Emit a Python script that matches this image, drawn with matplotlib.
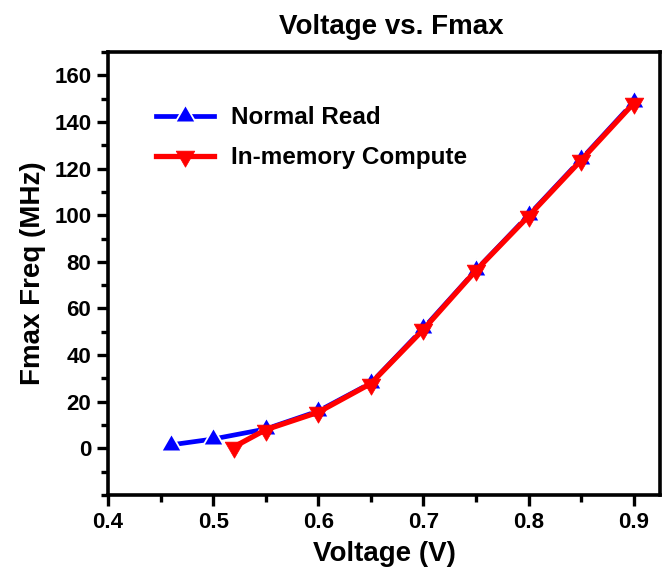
import matplotlib
matplotlib.use("Agg")
import matplotlib.pyplot as plt
from matplotlib.ticker import MultipleLocator

plt.rcParams['font.family'] = ['Liberation Sans', 'DejaVu Sans']
plt.rcParams['font.weight'] = 'bold'

normal_v = [0.46, 0.50, 0.55, 0.60, 0.65, 0.70, 0.75, 0.80, 0.85, 0.90]
normal_f = [1.5, 4, 8.3, 16, 28, 51.5, 76.5, 100, 124, 148.5]
imc_v = [0.52, 0.55, 0.60, 0.65, 0.70, 0.75, 0.80, 0.85, 0.90]
imc_f = [0.7, 8, 15.5, 27.8, 51, 76.3, 99.6, 123.6, 148]

fig = plt.figure(figsize=(6.65, 5.82), dpi=100)
ax = fig.add_axes([0.1624, 0.1495, 0.8301, 0.7612])

ax.plot(normal_v, normal_f, color='#0000ff', linestyle='-', linewidth=3.4,
        marker=(3, 0, 0), markersize=17, markeredgecolor='white', markeredgewidth=1.3,
        markerfacecolor='#0000ff', label='Normal Read')
ax.plot(imc_v, imc_f, color='#ff0000', linestyle='-', linewidth=3.8,
        marker=(3, 0, 180), markersize=15.5, markeredgecolor='#ff0000', markeredgewidth=0.5,
        label='In-memory Compute')

ax.set_xlim(0.4, 0.925)
ax.set_ylim(-20, 170)
ax.xaxis.set_major_locator(MultipleLocator(0.1))
ax.xaxis.set_minor_locator(MultipleLocator(0.05))
ax.yaxis.set_major_locator(MultipleLocator(20))
ax.yaxis.set_minor_locator(MultipleLocator(10))
ax.set_yticks([0, 20, 40, 60, 80, 100, 120, 140, 160])
ax.tick_params(which='major', direction='out', length=8, width=2.4, labelsize=16, pad=4)
ax.tick_params(which='minor', direction='out', length=5, width=2.4)
for lbl in ax.get_xticklabels() + ax.get_yticklabels():
    lbl.set_fontweight('bold')
for s in ax.spines.values():
    s.set_linewidth(2.6)

ax.set_xlabel('Voltage (V)', fontsize=20, fontweight='bold', labelpad=6)
ax.set_ylabel('Fmax Freq (MHz)', fontsize=20, fontweight='bold', labelpad=6)
ax.set_title('Voltage vs. Fmax', fontsize=20, fontweight='bold', pad=13, x=0.513)

leg = ax.legend(loc='upper left', bbox_to_anchor=(0.047, 0.927), frameon=False,
                handlelength=2.4, handletextpad=0.7, labelspacing=0.7,
                prop={'weight': 'bold', 'size': 17.5})

fig.savefig('out.png', dpi=100)
